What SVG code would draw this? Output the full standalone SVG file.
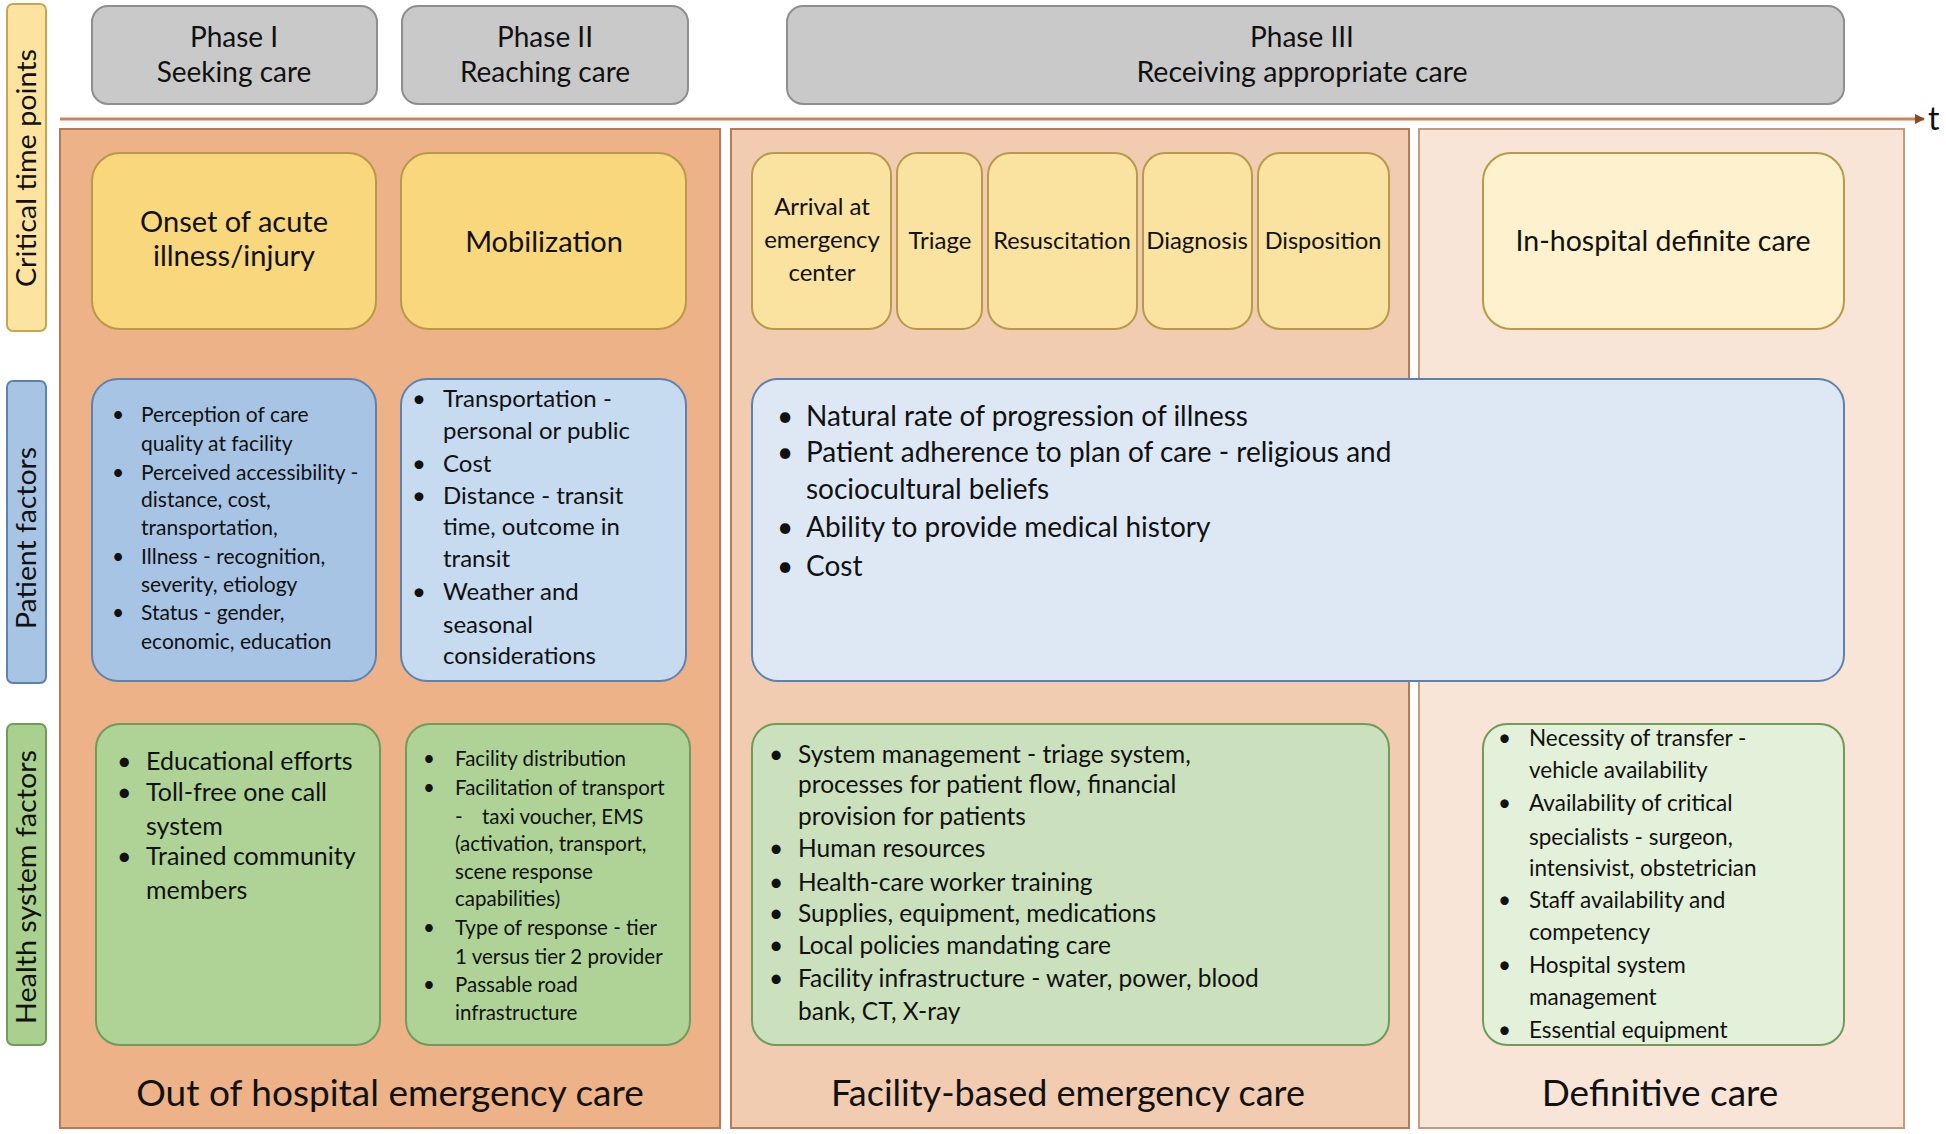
<svg xmlns="http://www.w3.org/2000/svg" width="1946" height="1134" viewBox="0 0 1946 1134">
<defs>
<marker id="arr" markerWidth="10" markerHeight="10" refX="9" refY="5" orient="auto" markerUnits="userSpaceOnUse">
<path d="M0,0 L10,5 L0,10 Z" fill="#8B4A1E"/>
</marker>
</defs>
<style>
text{font-family:Lato,"Open Sans","Liberation Sans",sans-serif;fill:#111}
.c{text-anchor:middle}
.phase{fill:#C9C9C9;stroke:#8E8E8E;stroke-width:2}
.y1{fill:#F9D77C;stroke:#B89A4A;stroke-width:2}
.y2{fill:#FAE3A1;stroke:#B89A4A;stroke-width:2}
.y3{fill:#FDF1CE;stroke:#B89A4A;stroke-width:2}
.b1{fill:#A7C4E5;stroke:#5E82B0;stroke-width:2}
.b2{fill:#C6DAF0;stroke:#5E82B0;stroke-width:2}
.b3{fill:#DDE8F4;stroke:#5E82B0;stroke-width:2}
.g1{fill:#AFD396;stroke:#719B58;stroke-width:2}
.g3{fill:#CBE0BC;stroke:#719B58;stroke-width:2}
.g4{fill:#E3F0DA;stroke:#719B58;stroke-width:2}
.bar{stroke-width:2}
</style>

<g id="side-labels">
<g id="critical-time-points">
<rect x="7" y="4" width="39" height="327" rx="6" fill="#FCE4A0" stroke="#C9A64E" class="bar"/>
<text class="c" transform="translate(36,168) rotate(-90)" font-size="27" textLength="238" lengthAdjust="spacingAndGlyphs">Critical time points</text>
</g>
<g id="patient-factors">
<rect x="7" y="381" width="39" height="302" rx="6" fill="#A7C4E5" stroke="#5E82B0" class="bar"/>
<text class="c" transform="translate(36,538) rotate(-90)" font-size="27" textLength="182" lengthAdjust="spacingAndGlyphs">Patient factors</text>
</g>
<g id="health-system-factors">
<rect x="7" y="724" width="39" height="321" rx="6" fill="#A9D08E" stroke="#719B58" class="bar"/>
<text class="c" transform="translate(36,887) rotate(-90)" font-size="27" textLength="274" lengthAdjust="spacingAndGlyphs">Health system factors</text>
</g>
</g>

<g id="phases">
<g id="phase1">
<rect class="phase" x="92" y="6" width="285" height="98" rx="16"/>
<text class="c" x="234" y="47" font-size="28">Phase I</text>
<text class="c" x="234" y="82" font-size="28">Seeking care</text>
</g>
<g id="phase2">
<rect class="phase" x="402" y="6" width="286" height="98" rx="16"/>
<text class="c" x="545" y="47" font-size="28">Phase II</text>
<text class="c" x="545" y="82" font-size="28">Reaching care</text>
</g>
<g id="phase3">
<rect class="phase" x="787" y="6" width="1057" height="98" rx="16"/>
<text class="c" x="1302" y="47" font-size="28">Phase III</text>
<text class="c" x="1302" y="82" font-size="28.5">Receiving appropriate care</text>
</g>
</g>

<g id="connectors">
<line x1="60" y1="119" x2="1924" y2="119" stroke="#C98460" stroke-width="3" marker-end="url(#arr)"/>
</g>
<text x="1928" y="130" font-size="32">t</text>

<g id="panels">
<g id="out-of-hospital">
<rect x="60" y="129" width="660" height="999" fill="#EDB287" stroke="#B87A55" stroke-width="2"/>
<text class="c" x="390" y="1106" font-size="37">Out of hospital emergency care</text>
</g>
<g id="facility-based">
<rect x="731" y="129" width="678" height="999" fill="#F2CCB1" stroke="#B87A55" stroke-width="2"/>
<text class="c" x="1068" y="1106" font-size="36">Facility-based emergency care</text>
</g>
<g id="definitive">
<rect x="1419" y="129" width="485" height="999" fill="#F8E5D8" stroke="#C49A80" stroke-width="2"/>
<text class="c" x="1660" y="1106" font-size="37">Definitive care</text>
</g>
</g>

<g id="time-points">
<g id="onset">
<rect class="y1" x="92" y="153" width="284" height="176" rx="28"/>
<text class="c" x="234" y="232" font-size="29">Onset of acute</text>
<text class="c" x="234" y="266" font-size="29">illness/injury</text>
</g>
<g id="mobilization">
<rect class="y1" x="401" y="153" width="285" height="176" rx="28"/>
<text class="c" x="544" y="252" font-size="29">Mobilization</text>
</g>
<g id="arrival">
<rect class="y2" x="752" y="153" width="139" height="176" rx="22"/>
<text class="c" x="822" y="215" font-size="24">Arrival at</text>
<text class="c" x="822" y="248" font-size="24">emergency</text>
<text class="c" x="822" y="281" font-size="24">center</text>
</g>
<g id="triage">
<rect class="y2" x="897" y="153" width="85" height="176" rx="20"/>
<text class="c" x="940" y="249" font-size="24">Triage</text>
</g>
<g id="resuscitation">
<rect class="y2" x="988" y="153" width="149" height="176" rx="22"/>
<text class="c" x="1062" y="249" font-size="23.5">Resuscitation</text>
</g>
<g id="diagnosis">
<rect class="y2" x="1143" y="153" width="109" height="176" rx="22"/>
<text class="c" x="1197" y="249" font-size="24">Diagnosis</text>
</g>
<g id="disposition">
<rect class="y2" x="1258" y="153" width="131" height="176" rx="22"/>
<text class="c" x="1323" y="249" font-size="23.5">Disposition</text>
</g>
<g id="in-hospital">
<rect class="y3" x="1483" y="153" width="361" height="176" rx="28"/>
<text class="c" x="1663" y="251" font-size="28.5">In-hospital definite care</text>
</g>
</g>

<g id="patient-row">
<g id="pf1">
<rect class="b1" x="92" y="379" width="284" height="302" rx="26"/>
<g font-size="21">
<text x="112" y="422">•</text><text x="141" y="422">Perception of care</text>
<text x="141" y="451">quality at facility</text>
<text x="112" y="480">•</text><text x="141" y="480">Perceived accessibility -</text>
<text x="141" y="507">distance, cost,</text>
<text x="141" y="535">transportation,</text>
<text x="112" y="564">•</text><text x="141" y="564">Illness - recognition,</text>
<text x="141" y="592">severity, etiology</text>
<text x="112" y="620">•</text><text x="141" y="620">Status - gender,</text>
<text x="141" y="649">economic, education</text>
</g>
</g>
<g id="pf2">
<rect class="b2" x="401" y="379" width="285" height="302" rx="26"/>
<g font-size="24">
<text x="412" y="407">•</text><text x="443" y="407">Transportation -</text>
<text x="443" y="439">personal or public</text>
<text x="412" y="472">•</text><text x="443" y="472">Cost</text>
<text x="412" y="504">•</text><text x="443" y="504">Distance - transit</text>
<text x="443" y="535">time, outcome in</text>
<text x="443" y="567">transit</text>
<text x="412" y="600">•</text><text x="443" y="600">Weather and</text>
<text x="443" y="633">seasonal</text>
<text x="443" y="664">considerations</text>
</g>
</g>
<g id="pf3">
<rect class="b3" x="752" y="379" width="1092" height="302" rx="26"/>
<g font-size="28">
<text x="777" y="426">•</text><text x="806" y="426">Natural rate of progression of illness</text>
<text x="777" y="462">•</text><text x="806" y="462">Patient adherence to plan of care - religious and</text>
<text x="806" y="499">sociocultural beliefs</text>
<text x="777" y="537">•</text><text x="806" y="537">Ability to provide medical history</text>
<text x="777" y="576">•</text><text x="806" y="576">Cost</text>
</g>
</g>
</g>

<g id="health-row">
<g id="hs1">
<rect class="g1" x="96" y="724" width="284" height="321" rx="24"/>
<g font-size="25">
<text x="117" y="770">•</text><text x="146" y="770">Educational efforts</text>
<text x="117" y="801">•</text><text x="146" y="801">Toll-free one call</text>
<text x="146" y="835">system</text>
<text x="117" y="865">•</text><text x="146" y="865">Trained community</text>
<text x="146" y="899">members</text>
</g>
</g>
<g id="hs2">
<rect class="g1" x="406" y="724" width="284" height="321" rx="24"/>
<g font-size="20.5">
<text x="423" y="766">•</text><text x="455" y="766">Facility distribution</text>
<text x="423" y="795">•</text><text x="455" y="795">Facilitation of transport</text>
<text x="455" y="824">-</text><text x="482" y="824">taxi voucher, EMS</text>
<text x="455" y="851">(activation, transport,</text>
<text x="455" y="879">scene response</text>
<text x="455" y="906">capabilities)</text>
<text x="423" y="935">•</text><text x="455" y="935">Type of response - tier</text>
<text x="455" y="964">1 versus tier 2 provider</text>
<text x="423" y="992">•</text><text x="455" y="992">Passable road</text>
<text x="455" y="1020">infrastructure</text>
</g>
</g>
<g id="hs3">
<rect class="g3" x="752" y="724" width="637" height="321" rx="24"/>
<g font-size="24.5">
<text x="769" y="763">•</text><text x="798" y="763">System management - triage system,</text>
<text x="798" y="793">processes for patient flow, financial</text>
<text x="798" y="825">provision for patients</text>
<text x="769" y="857">•</text><text x="798" y="857">Human resources</text>
<text x="769" y="891">•</text><text x="798" y="891">Health-care worker training</text>
<text x="769" y="922">•</text><text x="798" y="922">Supplies, equipment, medications</text>
<text x="769" y="954">•</text><text x="798" y="954">Local policies mandating care</text>
<text x="769" y="987">•</text><text x="798" y="987">Facility infrastructure - water, power, blood</text>
<text x="798" y="1020">bank, CT, X-ray</text>
</g>
</g>
<g id="hs4">
<rect class="g4" x="1483" y="724" width="361" height="321" rx="24"/>
<g font-size="22.5">
<text x="1498" y="746">•</text><text x="1529" y="746">Necessity of transfer -</text>
<text x="1529" y="778">vehicle availability</text>
<text x="1498" y="811">•</text><text x="1529" y="811">Availability of critical</text>
<text x="1529" y="845">specialists - surgeon,</text>
<text x="1529" y="876">intensivist, obstetrician</text>
<text x="1498" y="908">•</text><text x="1529" y="908">Staff availability and</text>
<text x="1529" y="940">competency</text>
<text x="1498" y="973">•</text><text x="1529" y="973">Hospital system</text>
<text x="1529" y="1005">management</text>
<text x="1498" y="1038">•</text><text x="1529" y="1038">Essential equipment</text>
</g>
</g>
</g>
</svg>
